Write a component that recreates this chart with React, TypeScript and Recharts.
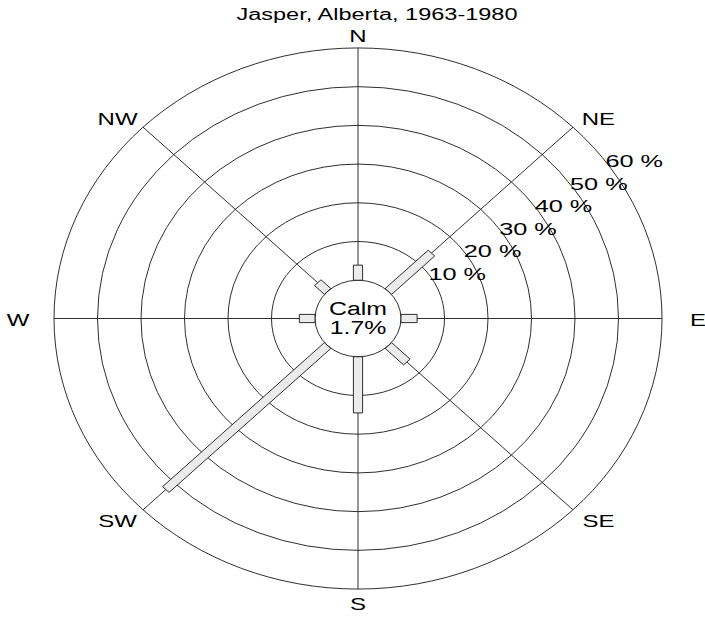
import { RadarChart, Radar, PolarGrid, PolarAngleAxis, PolarRadiusAxis } from 'recharts';

// Wind rose, Jasper (Alberta), 1963-1980 — percent of observations by direction
const directions = ['N', 'NE', 'E', 'SE', 'S', 'SW', 'W', 'NW'];
const frequency = [3.9, 14, 3.7, 6.0, 14.5, 52.6, 3.6, 3.2];
const ringTicks = [0, 10, 20, 30, 40, 50, 60];
const title = 'Jasper, Alberta, 1963-1980';
const calmLabel = 'Calm';
const calmValue = '1.7%';

const data = directions.map((dir, i) => ({ dir, value: frequency[i] }));

// the original plot is wider than tall: draw round, then squash vertically
const W = 705;
const H = 619;
const K = 0.89;
const CX = 358;
const CY = 318.5 / K;
const OUTER = 304;
const INNER = 43;
const FONT = '"Liberation Sans", Arial, Helvetica, sans-serif';

// text is stretched horizontally in the reference; undo the vertical squash for it
const textTransform = (x: number, y: number, sx: number) =>
  `translate(${x} ${y}) scale(${sx} ${1 / K}) translate(${-x} ${-y})`;

const DirTick = (props: any) => {
  const { payload } = props;
  const a = (payload.coordinate * Math.PI) / 180;
  const cx = typeof props.cx === 'number' ? props.cx : CX;
  const cy = typeof props.cy === 'number' ? props.cy : CY;
  const x = cx + 340 * Math.cos(a);
  const y = cy - 319 * Math.sin(a) + 2;
  return (
    <text
      x={x}
      y={y}
      dy="0.36em"
      textAnchor="middle"
      fontSize={16}
      fontFamily={FONT}
      fill="#000"
      transform={textTransform(x, y, 1.5)}
    >
      {payload.value}
    </text>
  );
};

const RingTick = (props: any) => {
  const { x, y, payload } = props;
  if (!payload || payload.value === 0) return <g />;
  return (
    <text
      x={x}
      y={y}
      dy="0.36em"
      textAnchor="start"
      fontSize={16}
      fontFamily={FONT}
      fill="#000"
      transform={textTransform(x, y, 1.58)}
    >
      {`${payload.value} %`}
    </text>
  );
};

// straight bars of fixed width from the calm circle out to the value radius
const RoseBars = (props: any) => {
  const points = props.points || [];
  const hw = 4.6;
  return (
    <g className="rose-bars">
      {points.map((p: any, i: number) => {
        const a = (-p.angle * Math.PI) / 180;
        const ux = Math.cos(a);
        const uy = Math.sin(a);
        const px = -uy * hw;
        const py = ux * hw;
        const bx = p.cx + INNER * ux;
        const by = p.cy + INNER * uy;
        const tx = p.cx + p.radius * ux;
        const ty = p.cy + p.radius * uy;
        const pts = [
          [bx + px, by + py],
          [tx + px, ty + py],
          [tx - px, ty - py],
          [bx - px, by - py],
        ]
          .map((q) => q.join(','))
          .join(' ');
        return <polygon key={`bar-${i}`} points={pts} fill="#ebebeb" stroke="#222" strokeWidth={1} />;
      })}
    </g>
  );
};

export default function App() {
  return (
    <div style={{ position: 'absolute', left: 0, top: 0, width: W, height: H, overflow: 'hidden', background: '#fff' }}>
      <div style={{ position: 'absolute', left: 0, top: 0, transform: `scaleY(${K})`, transformOrigin: '0 0' }}>
        <RadarChart
          width={W}
          height={Math.round(H / K)}
          data={data}
          cx={CX}
          cy={CY}
          innerRadius={INNER}
          outerRadius={OUTER}
          startAngle={90}
          endAngle={-270}
          margin={{ top: 0, right: 0, bottom: 0, left: 0 }}
        >
          <PolarGrid gridType="circle" stroke="#222" strokeWidth={1} />
          <PolarAngleAxis dataKey="dir" tick={DirTick} tickLine={false} axisLine={false} />
          <PolarRadiusAxis
            type="number"
            angle={35.5}
            domain={[0, 60]}
            ticks={ringTicks}
            tickCount={7}
            axisLine={false}
            tick={RingTick}
          />
          <Radar dataKey="value" shape={RoseBars} dot={false} isAnimationActive={false} />
        </RadarChart>
      </div>
      <svg width={W} height={H} style={{ position: 'absolute', left: 0, top: 0, pointerEvents: 'none' }}>
        <text
          x={377}
          y={20}
          textAnchor="middle"
          fontSize={16}
          fontFamily={FONT}
          fill="#000"
          transform={`translate(377 0) scale(1.47 1) translate(-377 0)`}
        >
          {title}
        </text>
        <text
          x={CX}
          y={315}
          textAnchor="middle"
          fontSize={18}
          fontFamily={FONT}
          fill="#000"
          transform={`translate(${CX} 0) scale(1.38 1) translate(${-CX} 0)`}
        >
          {calmLabel}
        </text>
        <text
          x={CX}
          y={334}
          textAnchor="middle"
          fontSize={18}
          fontFamily={FONT}
          fill="#000"
          transform={`translate(${CX} 0) scale(1.38 1) translate(${-CX} 0)`}
        >
          {calmValue}
        </text>
      </svg>
    </div>
  );
}
